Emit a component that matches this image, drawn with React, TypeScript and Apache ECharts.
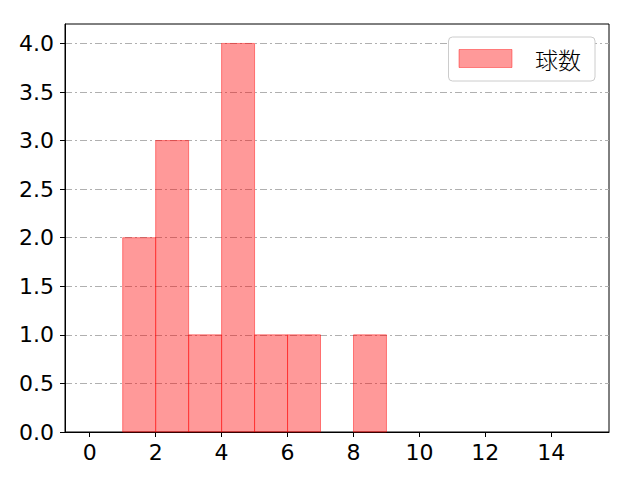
import React, { useEffect, useRef } from "react";
import * as echarts from "echarts";

const binStarts = [0, 1, 2, 3, 4, 5, 6, 7, 8, 9, 10, 11, 12, 13, 14];
const binWidth = 1;
const counts = [0, 2, 3, 1, 4, 1, 1, 0, 1, 0, 0, 0, 0, 0, 0];
const xTicks = [0, 2, 4, 6, 8, 10, 12, 14];
const yTicks = [0, 0.5, 1, 1.5, 2, 2.5, 3, 3.5, 4];
const seriesName = "球数";

const FONT = "'DejaVu Sans', sans-serif";
const CJK = "'Noto Sans CJK JP', sans-serif";

export default function App() {
  const ref = useRef<HTMLDivElement>(null);
  useEffect(() => {
    if (!ref.current) return;
    const chart = echarts.init(ref.current, undefined, { renderer: "svg" });
    const data = binStarts.map((s, i) => [s, s + binWidth, counts[i]]);
    chart.setOption({
      animation: false,
      grid: { left: 65, right: 31, top: 24, bottom: 48, show: true, borderColor: "#000", borderWidth: 1, backgroundColor: "#fff" },
      legend: {
        right: 45,
        top: 37,
        padding: [10, 14, 11, 10],
        backgroundColor: "#fff",
        borderColor: "#cccccc",
        borderWidth: 1,
        borderRadius: 4,
        itemWidth: 53,
        itemHeight: 18,
        icon: "rect",
        textStyle: { fontSize: 23, fontFamily: CJK, fontWeight: 300, color: "#000", padding: [0, 0, 0, 18] },
        data: [{ name: seriesName, itemStyle: { color: "rgba(255,0,0,0.4)", borderColor: "rgba(255,0,0,0.4)", borderWidth: 1 } }],
      },
      xAxis: {
        type: "value",
        min: -0.75,
        max: 15.75,
        axisLine: { show: true, onZero: false, lineStyle: { color: "#000" } },
        axisTick: { show: true, customValues: xTicks, length: 5, lineStyle: { color: "#000" } },
        axisLabel: { customValues: xTicks, fontSize: 22, fontFamily: FONT, color: "#000", margin: 9 },
        splitLine: { show: false },
      },
      yAxis: {
        type: "value",
        min: 0,
        max: 4.2,
        interval: 0.5,
        axisLine: { show: true, onZero: false, lineStyle: { color: "#000" } },
        axisTick: { show: true, customValues: yTicks, length: 5, lineStyle: { color: "#000" } },
        axisLabel: { customValues: yTicks, fontSize: 22, fontFamily: FONT, color: "#000", margin: 11, formatter: (v: number) => v.toFixed(1) },
        splitLine: { show: true, lineStyle: { color: "#b0b0b0", width: 1, type: [7, 3, 2, 3] } },
      },
      series: [
        {
          type: "custom",
          name: seriesName,
          data,
          renderItem: (params: any, api: any) => {
            const x0 = api.value(0);
            const x1 = api.value(1);
            const y = api.value(2);
            if (!y) return null;
            const p0 = api.coord([x0, y]);
            const p1 = api.coord([x1, 0]);
            return {
              type: "rect",
              shape: { x: p0[0], y: p0[1], width: p1[0] - p0[0], height: p1[1] - p0[1] },
              style: { fill: "rgba(255,0,0,0.4)", stroke: "rgba(255,0,0,0.45)", lineWidth: 1 },
            };
          },
          encode: { x: [0, 1], y: 2 },
          itemStyle: { color: "rgba(255,0,0,0.4)" },
        },
      ],
    });
    return () => chart.dispose();
  }, []);
  return <div ref={ref} style={{ width: 640, height: 480, margin: -8 }} />;
}
